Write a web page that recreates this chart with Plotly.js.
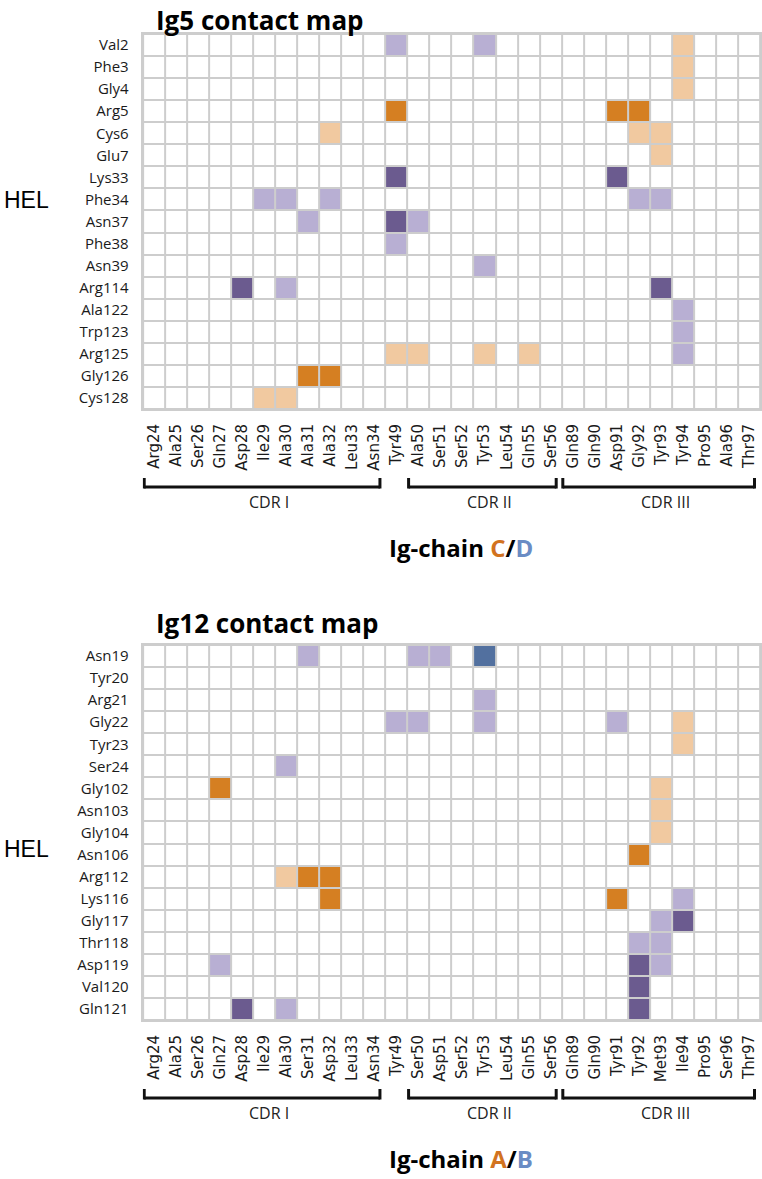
<!DOCTYPE html>
<html>
<head>
<meta charset="utf-8">
<script src="https://cdn.plot.ly/plotly-3.0.1.min.js"></script>
<style>
  body { margin: 0; background: #fff; }
  #plot { width: 762px; height: 1179px; }
</style>
</head>
<body>
<div id="plot"></div>
<script>
// contact level codes: 1 light purple, 2 dark purple, 3 orange, 4 peach, 5 blue
var ig5Rows = ["Val2", "Phe3", "Gly4", "Arg5", "Cys6", "Glu7", "Lys33", "Phe34", "Asn37",
  "Phe38", "Asn39", "Arg114", "Ala122", "Trp123", "Arg125", "Gly126", "Cys128"];
var ig5Cols = ["Arg24", "Ala25", "Ser26", "Gln27", "Asp28", "Ile29", "Ala30", "Ala31", "Ala32",
  "Leu33", "Asn34", "Tyr49", "Ala50", "Ser51", "Ser52", "Tyr53", "Leu54", "Gln55", "Ser56",
  "Gln89", "Gln90", "Asp91", "Gly92", "Tyr93", "Tyr94", "Pro95", "Ala96", "Thr97"];
var ig5Contacts = [
  ["Val2", "Tyr49", 1], ["Val2", "Tyr53", 1], ["Val2", "Tyr94", 4],
  ["Phe3", "Tyr94", 4],
  ["Gly4", "Tyr94", 4],
  ["Arg5", "Tyr49", 3], ["Arg5", "Asp91", 3], ["Arg5", "Gly92", 3],
  ["Cys6", "Ala32", 4], ["Cys6", "Gly92", 4], ["Cys6", "Tyr93", 4],
  ["Glu7", "Tyr93", 4],
  ["Lys33", "Tyr49", 2], ["Lys33", "Asp91", 2],
  ["Phe34", "Ile29", 1], ["Phe34", "Ala30", 1], ["Phe34", "Ala32", 1], ["Phe34", "Gly92", 1], ["Phe34", "Tyr93", 1],
  ["Asn37", "Ala31", 1], ["Asn37", "Tyr49", 2], ["Asn37", "Ala50", 1],
  ["Phe38", "Tyr49", 1],
  ["Asn39", "Tyr53", 1],
  ["Arg114", "Asp28", 2], ["Arg114", "Ala30", 1], ["Arg114", "Tyr93", 2],
  ["Ala122", "Tyr94", 1],
  ["Trp123", "Tyr94", 1],
  ["Arg125", "Tyr49", 4], ["Arg125", "Ala50", 4], ["Arg125", "Tyr53", 4], ["Arg125", "Gln55", 4], ["Arg125", "Tyr94", 1],
  ["Gly126", "Ala31", 3], ["Gly126", "Ala32", 3],
  ["Cys128", "Ile29", 4], ["Cys128", "Ala30", 4]
];

var ig12Rows = ["Asn19", "Tyr20", "Arg21", "Gly22", "Tyr23", "Ser24", "Gly102", "Asn103", "Gly104",
  "Asn106", "Arg112", "Lys116", "Gly117", "Thr118", "Asp119", "Val120", "Gln121"];
var ig12Cols = ["Arg24", "Ala25", "Ser26", "Gln27", "Asp28", "Ile29", "Ala30", "Ser31", "Asp32",
  "Leu33", "Asn34", "Tyr49", "Ser50", "Asp51", "Ser52", "Tyr53", "Leu54", "Gln55", "Ser56",
  "Gln89", "Gln90", "Tyr91", "Tyr92", "Met93", "Ile94", "Pro95", "Ser96", "Thr97"];
var ig12Contacts = [
  ["Asn19", "Ser31", 1], ["Asn19", "Ser50", 1], ["Asn19", "Asp51", 1], ["Asn19", "Tyr53", 5],
  ["Arg21", "Tyr53", 1],
  ["Gly22", "Tyr49", 1], ["Gly22", "Ser50", 1], ["Gly22", "Tyr53", 1], ["Gly22", "Tyr91", 1], ["Gly22", "Ile94", 4],
  ["Tyr23", "Ile94", 4],
  ["Ser24", "Ala30", 1],
  ["Gly102", "Gln27", 3], ["Gly102", "Met93", 4],
  ["Asn103", "Met93", 4],
  ["Gly104", "Met93", 4],
  ["Asn106", "Tyr92", 3],
  ["Arg112", "Ala30", 4], ["Arg112", "Ser31", 3], ["Arg112", "Asp32", 3],
  ["Lys116", "Asp32", 3], ["Lys116", "Tyr91", 3], ["Lys116", "Ile94", 1],
  ["Gly117", "Met93", 1], ["Gly117", "Ile94", 2],
  ["Thr118", "Tyr92", 1], ["Thr118", "Met93", 1],
  ["Asp119", "Gln27", 1], ["Asp119", "Tyr92", 2], ["Asp119", "Met93", 1],
  ["Val120", "Tyr92", 2],
  ["Gln121", "Asp28", 2], ["Gln121", "Ala30", 1], ["Gln121", "Tyr92", 2]
];

// CDR groups: first and last residue index along the x axis
var cdrNames = ["CDR I", "CDR II", "CDR III"];
var cdrFirst = [0, 12, 19];
var cdrLast = [10, 18, 27];

var levelColors = ["#ffffff", "#b8afd3", "#6b5b8f", "#d57f22", "#f1c9a0", "#52709f"];
var gridColor = "#cdcdcd";

function buildZ(rows, cols, contacts) {
  var z = rows.map(function () { return cols.map(function () { return 0; }); });
  contacts.forEach(function (c) {
    z[rows.indexOf(c[0])][cols.indexOf(c[1])] = c[2];
  });
  return z;
}

var n = levelColors.length - 1;
var colorscale = [];
levelColors.forEach(function (col, i) {
  var lo = Math.max(0, (i - 0.5) / n), hi = Math.min(1, (i + 0.5) / n);
  colorscale.push([lo, col]);
  colorscale.push([hi, col]);
});

function heat(rows, cols, contacts, xa, ya) {
  return {
    type: "heatmap",
    z: buildZ(rows, cols, contacts),
    x: cols,
    y: rows,
    xaxis: xa,
    yaxis: ya,
    zmin: 0,
    zmax: n,
    colorscale: colorscale,
    showscale: false,
    xgap: 2,
    ygap: 2,
    hoverinfo: "skip"
  };
}

var data = [
  heat(ig5Rows, ig5Cols, ig5Contacts, "x", "y"),
  heat(ig12Rows, ig12Cols, ig12Contacts, "x2", "y2")
];

var H = 1179, W = 762;
function py(px) { return 1 - px / H; }

var xDom = [142.7 / W, 760 / W];
var panels = [
  { top: 34, title: "Ig5 contact map", chain: ["C", "D"], helRow: 200, xa: "x", ya: "y" },
  { top: 645, title: "Ig12 contact map", chain: ["A", "B"], helRow: 849, xa: "x2", ya: "y2" }
];
var gridH = 375;

function xAxis(anchor) {
  return {
    domain: xDom, anchor: anchor, type: "category",
    tickangle: -90, ticks: "outside", ticklen: 7, tickcolor: "rgba(0,0,0,0)",
    tickfont: { family: "DejaVu Sans", size: 15, color: "#1a1a1a" },
    showgrid: false, zeroline: false,
    showline: true, mirror: true, linecolor: gridColor, linewidth: 2,
    fixedrange: true
  };
}
function yAxis(anchor, top) {
  return {
    domain: [py(top + gridH), py(top)], anchor: anchor, type: "category",
    autorange: "reversed",
    ticks: "outside", ticklen: 9, tickcolor: "rgba(0,0,0,0)",
    tickfont: { family: "Open Sans", size: 15, color: "#1a1a1a" },
    showgrid: false, zeroline: false,
    showline: true, mirror: true, linecolor: gridColor, linewidth: 2,
    fixedrange: true
  };
}

var shapes = [];
var annotations = [];
panels.forEach(function (p, k) {
  var bracketTop = p.top + 444, bracketBottom = p.top + 453;
  cdrNames.forEach(function (name, i) {
    var x0 = cdrFirst[i] - 0.45, x1 = cdrLast[i] + 0.25;
    var line = { color: "#111111", width: 3 };
    shapes.push({ type: "line", xref: p.xa, yref: "paper", x0: x0, x1: x1,
      y0: py(bracketBottom), y1: py(bracketBottom), line: line });
    shapes.push({ type: "line", xref: p.xa, yref: "paper", x0: x0, x1: x0,
      y0: py(bracketTop), y1: py(bracketBottom + 1.5), line: line });
    shapes.push({ type: "line", xref: p.xa, yref: "paper", x0: x1, x1: x1,
      y0: py(bracketTop), y1: py(bracketBottom + 1.5), line: line });
    annotations.push({
      xref: p.xa, yref: "paper", x: (cdrFirst[i] + cdrLast[i]) / 2 + 0.2, y: py(p.top + 468),
      text: name, showarrow: false, xanchor: "center", yanchor: "middle",
      font: { family: "Open Sans", size: 16, color: "#222222" }
    });
  });
  annotations.push({
    xref: "paper", yref: "paper", x: 154 / W,
    y: k === 0 ? 1 : py(p.top - 22), yanchor: k === 0 ? "top" : "middle",
    text: "<b>" + p.title + "</b>", showarrow: false, xanchor: "left",
    font: { family: "Open Sans", size: 26, color: "#000000" }
  });
  annotations.push({
    xref: "paper", yref: "paper", x: 2 / W, y: py(p.helRow),
    text: "HEL", showarrow: false, xanchor: "left", yanchor: "middle",
    font: { family: "Liberation Sans", size: 23, color: "#000000" }
  });
  annotations.push({
    xref: "paper", yref: "paper", x: 461 / W, y: py(p.top + 513),
    text: "<b>Ig-chain <span style='color:#d2731f'>" + p.chain[0] + "</span>/<span style='color:#6a8cc4'>" +
      p.chain[1] + "</span></b>",
    showarrow: false, xanchor: "center", yanchor: "middle",
    font: { family: "Open Sans", size: 24, color: "#000000" }
  });
});

var layout = {
  width: W,
  height: H,
  margin: { l: 0, r: 0, t: 0, b: 0 },
  paper_bgcolor: "#ffffff",
  plot_bgcolor: gridColor,
  showlegend: false,
  xaxis: xAxis("y"),
  yaxis: yAxis("x", panels[0].top),
  xaxis2: xAxis("y2"),
  yaxis2: yAxis("x2", panels[1].top),
  shapes: shapes,
  annotations: annotations
};

Plotly.newPlot("plot", data, layout, { displayModeBar: false, staticPlot: true });
</script>
</body>
</html>
